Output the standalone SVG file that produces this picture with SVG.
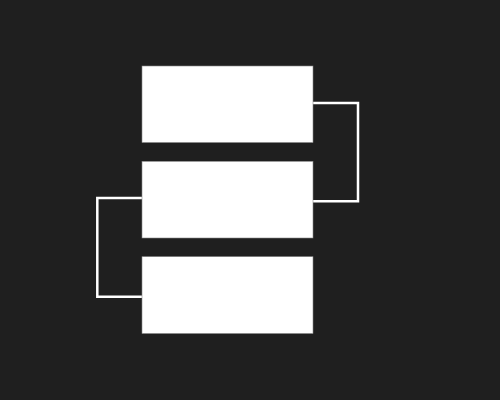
<svg xmlns="http://www.w3.org/2000/svg" width="500" height="400" viewBox="0 0 500 400">
<style>
.node{fill:#ffffff;stroke:#888888;stroke-width:0.6}
.edge{fill:none;stroke:#ffffff;stroke-width:2.5}
</style>
<rect width="500" height="400" fill="#1f1f1f"/>
<g id="connectors">
<path class="edge" d="M313,103 H358 V201.3 H313"/>
<path class="edge" d="M142,198 H97.3 V296.7 H142"/>
</g>
<g id="node1"><rect class="node" x="142" y="66" width="171" height="76.5"/></g>
<g id="node2"><rect class="node" x="142" y="161.3" width="171" height="76.7"/></g>
<g id="node3"><rect class="node" x="142" y="256.7" width="171" height="76.8"/></g>
</svg>
